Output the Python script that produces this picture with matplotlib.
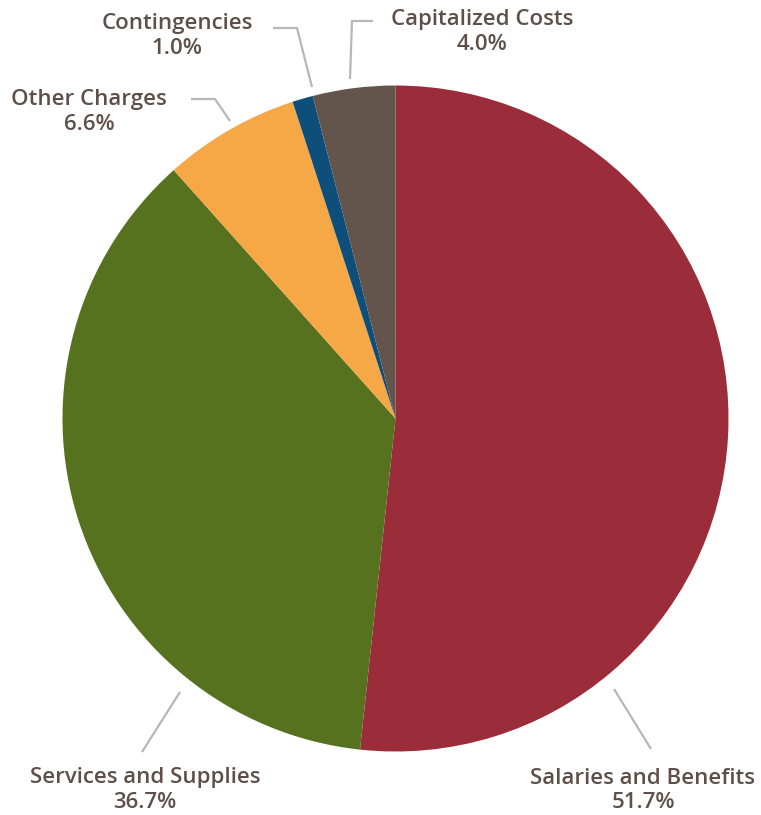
import matplotlib.pyplot as plt

labels = ['Salaries and Benefits', 'Services and Supplies', 'Other Charges',
          'Contingencies', 'Capitalized Costs']
shares = [51.7, 36.7, 6.6, 1.0, 4.0]
colors = ['#9B2D3A', '#56721F', '#F6A847', '#0D4F7A', '#63554B']

W, H = 761, 815
fig = plt.figure(figsize=(W / 100, H / 100), dpi=100)
ax = fig.add_axes([0, 0, 1, 1])

# pie in pixel coordinates (y flipped)
cx, cy, r = 395.5, H - 418.5, 333
ax.pie(shares, colors=colors, startangle=90, counterclock=False,
       center=(cx, cy), radius=r, frame=True,
       wedgeprops=dict(linewidth=0))
ax.set_xlim(0, W)
ax.set_ylim(0, H)
ax.set_aspect('equal')
ax.axis('off')

# leader lines (pixel coords, top-left origin)
leaders = [
    [(614, 689), (651, 749)],
    [(180, 692), (142, 752)],
    [(230, 121), (215, 99), (191, 99)],
    [(312, 87), (297, 28), (273, 28)],
    [(350, 79), (352, 21), (373, 21)],
]
for pts in leaders:
    xs = [p[0] for p in pts]
    ys = [H - p[1] for p in pts]
    ax.plot(xs, ys, color='#B7B7BB', lw=1.6, solid_capstyle='butt')

# label positions (center x, name y)
label_pos = [(643, 778), (145, 778), (89, 100), (177, 23), (482, 19)]
txt = '#5E5048'
for name, val, (x, y) in zip(labels, shares, label_pos):
    ax.text(x, H - y, name, ha='center', va='center', fontsize=16,
            fontweight='semibold', family='Open Sans', color=txt)
    ax.text(x, H - y - 25, f'{val:.1f}%', ha='center', va='center',
            fontsize=16, fontweight='semibold', family='Open Sans', color=txt)

fig.savefig('out.png', dpi=100)
